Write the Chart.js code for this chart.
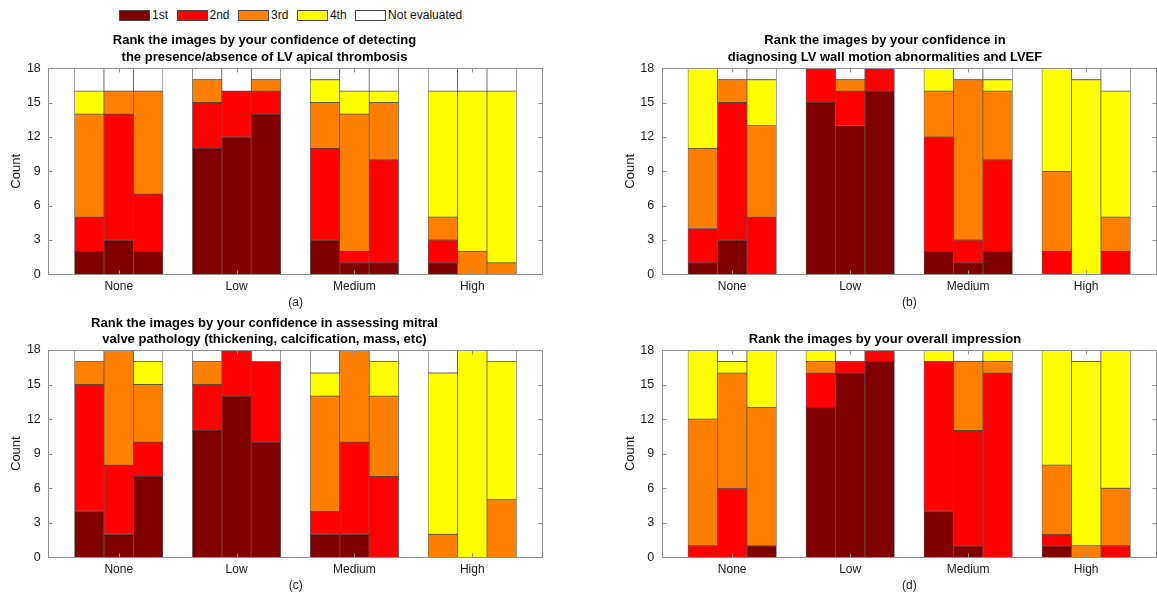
<!DOCTYPE html>
<html>
<head>
<meta charset="utf-8">
<script src="https://cdn.jsdelivr.net/npm/chart.js@4.4.1/dist/chart.umd.min.js"></script>
<style>
  html, body { margin: 0; padding: 0; background: #ffffff; }
  body { width: 1157px; height: 597px; position: relative; overflow: hidden; font-family: "Liberation Sans", Arial, sans-serif; }
  canvas { position: absolute; }
  #legend { position: absolute; left: 119px; top: 10px; display: flex; align-items: center; }
  #legend .item { display: flex; align-items: center; margin-right: 8.5px; }
  #legend .swatch { width: 31px; height: 11px; box-sizing: border-box; border: 1px solid #4a4a4a; }
  #legend .name { font-size: 12px; color: #111; margin-left: 2px; line-height: 11px; }
</style>
</head>
<body>
<div id="legend"></div>
<canvas id="panelA" width="557" height="310" style="left:-14px; top:0px;"></canvas>
<canvas id="panelB" width="544" height="310" style="left:613px; top:0px;"></canvas>
<canvas id="panelC" width="557" height="293" style="left:-14px; top:300px;"></canvas>
<canvas id="panelD" width="544" height="293" style="left:613px; top:300px;"></canvas>
<script>
// Image-quality groups on the x axis, three images ranked inside each group
const groups = ['None', 'Low', 'Medium', 'High'];
const rankNames = ['1st', '2nd', '3rd', '4th', 'Not evaluated'];
const rankColors = ['#800000', '#ff0000', '#ff8000', '#ffff00', '#ffffff'];
const countTicks = [0, 3, 6, 9, 12, 15, 18];

// (a) LV apical thrombosis
const thrombus1st = [2, 3, 2, 11, 12, 14, 3, 1, 1, 1, 0, 0];
const thrombus2nd = [3, 11, 5, 4, 4, 2, 8, 1, 9, 2, 0, 0];
const thrombus3rd = [9, 2, 9, 2, 0, 1, 4, 12, 5, 2, 2, 1];
const thrombus4th = [2, 0, 0, 0, 0, 0, 2, 2, 1, 11, 14, 15];
const thrombusNone = [2, 2, 2, 1, 2, 1, 1, 2, 2, 2, 2, 2];

// (b) LV wall motion and LVEF
const wall1st = [1, 3, 0, 15, 13, 16, 2, 1, 2, 0, 0, 0];
const wall2nd = [3, 12, 5, 3, 3, 2, 10, 2, 8, 2, 0, 2];
const wall3rd = [7, 2, 8, 0, 1, 0, 4, 14, 6, 7, 0, 3];
const wall4th = [7, 0, 4, 0, 0, 0, 2, 0, 1, 9, 17, 11];
const wallNone = [0, 1, 1, 0, 1, 0, 0, 1, 1, 0, 1, 2];

// (c) mitral valve pathology
const mitral1st = [4, 2, 7, 11, 14, 10, 2, 2, 0, 0, 0, 0];
const mitral2nd = [11, 6, 3, 4, 4, 7, 2, 8, 7, 0, 0, 0];
const mitral3rd = [2, 10, 5, 2, 0, 0, 10, 8, 7, 2, 0, 5];
const mitral4th = [0, 0, 2, 0, 0, 0, 2, 0, 3, 14, 18, 12];
const mitralNone = [1, 0, 1, 1, 0, 1, 2, 0, 1, 2, 0, 1];

// (d) overall impression
const overall1st = [0, 0, 1, 13, 16, 17, 4, 1, 0, 1, 0, 0];
const overall2nd = [1, 6, 0, 3, 1, 1, 13, 10, 16, 1, 0, 1];
const overall3rd = [11, 10, 12, 1, 0, 0, 0, 6, 1, 6, 1, 5];
const overall4th = [6, 1, 5, 1, 0, 0, 1, 0, 1, 10, 16, 12];
const overallNone = [0, 1, 0, 0, 1, 0, 0, 1, 0, 0, 1, 0];

const FONT = '"Liberation Sans", Arial, sans-serif';
const TEXT = '#1a1a1a';
const FRAME = '#8f8f8f';
const BARS_PER_GROUP = 3;

// Slot of a bar on the x axis: groups are separated by one empty slot
const slotOf = i => Math.floor(i / BARS_PER_GROUP) * (BARS_PER_GROUP + 1) + (i % BARS_PER_GROUP);
const groupCenter = g => g * (BARS_PER_GROUP + 1) + (BARS_PER_GROUP - 1) / 2;

// Shared legend above the panels
const legendEl = document.getElementById('legend');
rankNames.forEach((name, k) => {
  const item = document.createElement('div');
  item.className = 'item';
  const sw = document.createElement('div');
  sw.className = 'swatch';
  sw.style.background = rankColors[k];
  const label = document.createElement('span');
  label.className = 'name';
  label.textContent = name;
  item.appendChild(sw);
  item.appendChild(label);
  legendEl.appendChild(item);
});

// Grey plot frame with short inward tick marks on all four sides
const framePlugin = {
  id: 'frame',
  afterDatasetsDraw(chart) {
    const { ctx, chartArea: a, scales: { x, y } } = chart;
    const crisp = v => Math.round(v) + 0.5;
    const L = crisp(a.left), R = crisp(a.right - 1), T = crisp(a.top), B = crisp(a.bottom);
    ctx.save();
    ctx.strokeStyle = FRAME;
    ctx.lineWidth = 1;
    const seg = (x1, y1, x2, y2) => { ctx.beginPath(); ctx.moveTo(x1, y1); ctx.lineTo(x2, y2); ctx.stroke(); };
    countTicks.forEach(v => {
      const py = crisp(y.getPixelForValue(v));
      seg(L, py, L + 4, py);
      seg(R, py, R - 4, py);
    });
    groups.forEach((g, i) => {
      const px = crisp(x.getPixelForValue(groupCenter(i)));
      seg(px, B, px, B - 4);
      seg(px, T, px, T + 4);
    });
    ctx.strokeRect(L, T, R - L, B - T);
    ctx.restore();
  }
};

function buildPanel(id, titleLines, tag, series, layout) {
  const datasets = rankNames.map((name, k) => ({
    label: name,
    data: series[k].map((v, i) => ({ x: slotOf(i), y: v === 0 ? null : v })),
    backgroundColor: rankColors[k],
    borderColor: 'rgba(0,0,0,0.6)',
    borderWidth: 0.75,
    borderSkipped: false,
    barPercentage: 1,
    categoryPercentage: 1
  }));

  return new Chart(document.getElementById(id), {
    type: 'bar',
    data: { datasets },
    options: {
      responsive: false,
      animation: false,
      devicePixelRatio: 1,
      layout: { padding: 0 },
      plugins: {
        legend: { display: false },
        tooltip: { enabled: false },
        title: {
          display: true,
          text: titleLines,
          color: '#000',
          font: { family: FONT, size: 13, weight: 'bold', lineHeight: 1.25 },
          padding: { top: layout.titleTop, bottom: layout.titleBottom }
        }
      },
      scales: {
        x: {
          type: 'linear',
          stacked: true,
          offset: false,
          min: -1.39,
          max: 15.4,
          afterBuildTicks: s => { s.ticks = groups.map((g, i) => ({ value: groupCenter(i) })); },
          afterFit: s => { s.height = 35.7; },
          ticks: {
            autoSkip: false,
            maxRotation: 0,
            padding: 5,
            color: TEXT,
            font: { family: FONT, size: 12 },
            callback: (value, index) => groups[index]
          },
          grid: { display: false, drawTicks: false },
          border: { display: false },
          title: {
            display: true,
            text: tag,
            color: TEXT,
            font: { family: FONT, size: 12 },
            padding: { top: 0, bottom: 0 }
          }
        },
        y: {
          type: 'linear',
          stacked: true,
          min: 0,
          max: 18,
          afterBuildTicks: s => { s.ticks = countTicks.map(v => ({ value: v })); },
          afterFit: s => { s.width = layout.axisWidth; },
          ticks: {
            padding: 7.5,
            color: TEXT,
            font: { family: FONT, size: 12.5 }
          },
          grid: { display: false, drawTicks: false },
          border: { display: false },
          title: {
            display: true,
            text: 'Count',
            color: TEXT,
            font: { family: FONT, size: 13 },
            padding: { top: layout.countOffset, bottom: 0 }
          }
        }
      }
    },
    plugins: [framePlugin]
  });
}

buildPanel('panelA',
  ['Rank the images by your confidence of detecting', 'the presence/absence of LV apical thrombosis'],
  '(a)',
  [thrombus1st, thrombus2nd, thrombus3rd, thrombus4th, thrombusNone],
  { titleTop: 32.6, titleBottom: 3.2, axisWidth: 62.3, countOffset: 23 });

buildPanel('panelB',
  ['Rank the images by your confidence in', 'diagnosing LV wall motion abnormalities and LVEF'],
  '(b)',
  [wall1st, wall2nd, wall3rd, wall4th, wallNone],
  { titleTop: 32.6, titleBottom: 3.2, axisWidth: 48.7, countOffset: 10 });

buildPanel('panelC',
  ['Rank the images by your confidence in assessing mitral', 'valve pathology (thickening, calcification, mass, etc)'],
  '(c)',
  [mitral1st, mitral2nd, mitral3rd, mitral4th, mitralNone],
  { titleTop: 15, titleBottom: 2.5, axisWidth: 62.3, countOffset: 23 });

buildPanel('panelD',
  ['Rank the images by your overall impression'],
  '(d)',
  [overall1st, overall2nd, overall3rd, overall4th, overallNone],
  { titleTop: 31.3, titleBottom: 2.5, axisWidth: 48.7, countOffset: 10 });
</script>
</body>
</html>
